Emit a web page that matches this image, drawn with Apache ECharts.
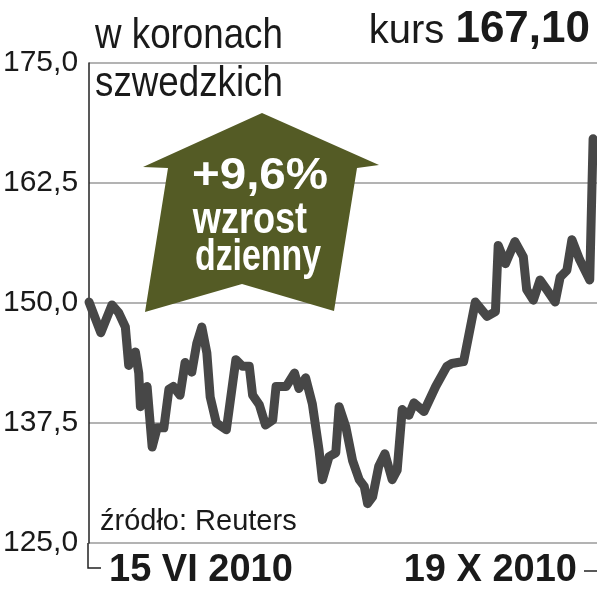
<!DOCTYPE html>
<html>
<head>
<meta charset="utf-8">
<script src="https://cdn.jsdelivr.net/npm/echarts@6/dist/echarts.min.js"></script>
<style>
html,body{margin:0;padding:0;background:#fff;}
#chart{width:597px;height:592px;}
</style>
</head>
<body>
<div id="chart"></div>
<script>
// trading-day position (from 15 VI 2010) and closing price, SEK
const dayIndex = [0.0, 2.1, 4.1, 5.3, 6.5, 7.1, 8.3, 8.9, 9.2, 10.4, 11.3, 12.2, 13.4, 14.3, 15.1, 16.3, 17.2, 18.4, 19.3, 20.2, 21.1, 21.7, 22.8, 24.6, 26.3, 27.5, 28.7, 29.3, 30.5, 31.6, 32.9, 33.5, 35.3, 36.8, 37.6, 38.8, 40.0, 41.2, 41.8, 43.0, 44.2, 44.8, 46.0, 47.2, 48.4, 49.3, 49.9, 50.8, 51.9, 53.0, 54.3, 55.2, 56.1, 57.3, 58.2, 60.0, 62.1, 64.1, 65.0, 67.1, 69.2, 71.3, 72.8, 73.3, 74.6, 76.3, 77.8, 78.4, 79.6, 80.8, 82.0, 83.5, 84.4, 85.6, 86.5, 87.9, 89.7, 90.3];
const price = [150.1, 146.9, 149.8, 149.0, 147.5, 143.5, 144.9, 142.7, 139.2, 141.3, 135.0, 137.0, 137.0, 141.0, 141.3, 140.4, 143.8, 142.8, 145.8, 147.5, 144.8, 140.2, 137.5, 136.8, 144.1, 143.4, 143.4, 140.4, 139.4, 137.3, 137.8, 141.3, 141.3, 142.7, 141.1, 142.2, 139.5, 134.7, 131.6, 134.0, 134.4, 139.2, 137.1, 133.6, 131.6, 130.9, 129.1, 129.8, 133.0, 134.3, 131.6, 132.6, 138.9, 138.3, 139.6, 138.7, 141.3, 143.4, 143.7, 143.9, 150.1, 148.6, 149.1, 156.0, 154.1, 156.4, 154.8, 151.4, 150.3, 152.4, 151.4, 150.1, 152.7, 153.4, 156.6, 154.5, 152.4, 167.1];
const yTicks = [125, 137.5, 150, 162.5, 175];
const dateLabels = ['15 VI 2010', '19 X 2010'];
const unitLines = ['w koronach', 'szwedzkich'];
const lastPrice = '167,10';
const changeText = ['+9,6%', 'wzrost', 'dzienny'];
const sourceText = 'źródło: Reuters';

const FONT = "'Liberation Sans', Arial, sans-serif";
const chart = echarts.init(document.getElementById('chart'), null, {renderer: 'canvas'});

const g = [];
// arrow
g.push({type: 'polygon', z: 50, shape: {points: [[262,113],[379,165],[357,168],[334,311],[242,284],[145,312],[168,168],[143,167]]}, style: {fill: '#545b25'}});
function txt(x, y, text, size, weight, sx, align, color) {
  return {type: 'text', z: 60, x: x, y: y, scaleX: sx, style: {x: 0, y: 0, text: text, fontSize: size, fontWeight: weight, fontFamily: FONT, fill: color || '#1a1a1a', align: align || 'left', verticalAlign: 'top'}};
}
g.push(txt(260, 155, changeText[0], 44, 'bold', 1.08, 'center', '#fff'));
g.push(txt(250, 199, changeText[1], 44, 'bold', 0.82, 'center', '#fff'));
g.push(txt(258, 236, changeText[2], 44, 'bold', 0.77, 'center', '#fff'));
g.push(txt(95, 15, unitLines[0], 42, 'normal', 0.875));
g.push(txt(95, 63, unitLines[1], 42, 'normal', 0.875));
g.push({type: 'text', z: 60, x: 590, y: 8, style: {x: 0, y: 0, text: '{a|kurs }{b|' + lastPrice + '}', align: 'right', verticalAlign: 'top', rich: {a: {fontSize: 40, fontFamily: FONT, fill: '#1a1a1a', verticalAlign: 'bottom'}, b: {fontSize: 44, fontWeight: 'bold', fontFamily: FONT, fill: '#1a1a1a', verticalAlign: 'bottom'}}}});
g.push(txt(100, 507, sourceText, 29, 'normal', 1.0));
g.push(txt(109, 552, dateLabels[0], 38, 'bold', 1.0));
g.push(txt(577, 552, dateLabels[1], 38, 'bold', 1.0, 'right'));
// axis extension and small ticks
g.push({type: 'polyline', z: 60, shape: {points: [[88,543],[88,568],[101,568]]}, style: {stroke: '#222', lineWidth: 1.5, fill: null}});
g.push({type: 'line', z: 60, shape: {x1: 584, y1: 571, x2: 597, y2: 571}, style: {stroke: '#222', lineWidth: 1.5}});

chart.setOption({
  animation: false,
  backgroundColor: '#fff',
  grid: {left: 88, right: 0, top: 63, bottom: 49},
  xAxis: {type: 'value', min: 0, max: 91, show: false},
  yAxis: {
    type: 'value', min: yTicks[0], max: yTicks[yTicks.length - 1], interval: 12.5,
    axisLine: {show: true, lineStyle: {color: '#222', width: 1.5}},
    axisTick: {show: false},
    splitLine: {show: true, lineStyle: {color: '#9a9a9a', width: 1.5}},
    axisLabel: {fontSize: 30, fontFamily: FONT, color: '#1a1a1a', margin: 11, padding: [28, 0, 0, 0],
      formatter: v => v.toFixed(1).replace('.', ',')}
  },
  series: [{
    type: 'line', showSymbol: false, symbol: 'none',
    data: dayIndex.map((d, i) => [d, price[i]]),
    lineStyle: {color: '#474747', width: 9, cap: 'round', join: 'round'},
    z: 10
  }],
  graphic: g
});
</script>
</body>
</html>
